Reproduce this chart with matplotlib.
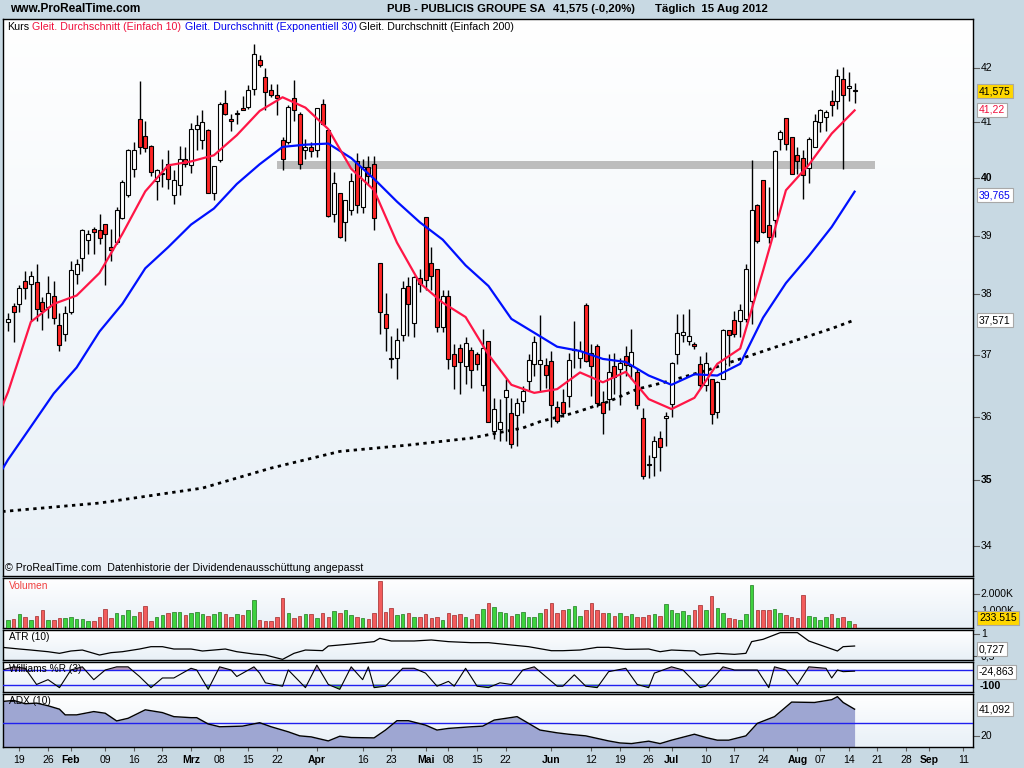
import numpy as np
import matplotlib
matplotlib.use('Agg')
import matplotlib.pyplot as plt
from matplotlib.transforms import blended_transform_factory
from matplotlib.colors import LinearSegmentedColormap

plt.rcParams['font.family'] = ['Liberation Sans', 'DejaVu Sans']

# ---------------- data (daily candles, 17 Jan 2012 .. 15 Aug 2012) ----------------
opens = [37.54, 37.80, 37.84, 38.23, 38.17, 38.21, 37.87, 37.78, 37.97, 37.49,
         37.34, 37.71, 38.34, 38.61, 38.92, 39.12, 39.10, 39.20, 38.81, 38.89,
         39.31, 39.71, 40.17, 41.07, 40.75, 40.57, 39.96, 40.07, 40.26, 39.70,
         39.88, 40.35, 40.23, 40.88, 40.68, 40.86, 39.75, 40.33, 41.36, 41.07,
         41.16, 41.26, 41.28, 41.61, 42.15, 41.84, 41.60, 41.51, 40.68, 40.65,
         41.45, 41.16, 40.50, 40.56, 40.50, 41.33, 40.86, 39.37, 39.75, 39.23,
         39.45, 40.30, 39.50, 40.20, 40.25, 38.53, 37.67, 36.95, 36.95, 37.33,
         38.14, 37.52, 38.28, 39.33, 38.53, 38.42, 37.45, 37.97, 37.01, 37.11,
         36.82, 37.08, 37.01, 36.50, 37.22, 35.77, 35.80, 36.32, 36.06, 36.02,
         36.25, 36.57, 36.85, 36.85, 36.83, 36.89, 36.16, 36.24, 36.33, 37.07,
         36.94, 37.82, 37.03, 37.14, 36.23, 36.28, 36.82, 36.77, 36.98, 36.82,
         36.72, 35.98, 35.26, 35.36, 35.66, 35.97, 36.20, 37.01, 37.32, 37.23,
         37.17, 36.85, 36.50, 36.60, 36.07, 36.61, 37.40, 37.57, 37.55, 37.58,
         37.88, 39.53, 39.97, 39.19, 39.27, 40.70, 41.09, 40.73, 40.42, 40.36,
         40.19, 40.56, 41.00, 41.10, 41.40, 41.39, 41.80, 41.63, 41.58]
highs = [37.68, 37.85, 38.16, 38.40, 38.40, 38.51, 37.95, 38.31, 38.23, 37.68,
         37.81, 38.56, 38.60, 39.12, 39.09, 39.14, 39.38, 39.20, 39.12, 39.49,
         39.97, 40.53, 40.65, 41.76, 41.02, 40.60, 40.17, 40.35, 40.51, 40.14,
         40.57, 40.56, 40.99, 41.14, 41.22, 40.88, 40.21, 41.37, 41.60, 41.16,
         41.22, 41.48, 41.69, 42.44, 42.24, 42.00, 41.71, 41.71, 40.74, 41.31,
         41.77, 41.19, 40.70, 40.65, 41.26, 41.43, 40.89, 40.12, 39.75, 39.61,
         40.10, 40.45, 40.35, 40.40, 40.40, 38.53, 38.03, 37.31, 37.44, 38.23,
         38.29, 38.31, 38.42, 39.33, 38.80, 38.42, 38.08, 38.08, 37.18, 37.18,
         37.29, 37.13, 37.05, 37.42, 37.22, 36.30, 36.28, 36.60, 36.30, 36.30,
         36.49, 37.01, 37.31, 37.65, 36.95, 37.06, 36.25, 36.44, 37.02, 37.56,
         37.23, 37.86, 37.18, 37.18, 36.41, 37.01, 37.02, 36.95, 37.14, 37.42,
         36.79, 36.14, 35.40, 35.70, 35.77, 36.08, 36.88, 37.67, 37.67, 37.76,
         37.20, 36.97, 37.04, 36.60, 36.57, 37.42, 37.40, 37.72, 37.84, 38.51,
         40.32, 39.54, 39.97, 39.84, 40.51, 40.86, 41.09, 40.73, 40.56, 40.50,
         40.73, 41.15, 41.25, 41.22, 41.60, 41.98, 42.02, 41.93, 41.72]
lows = [37.39, 37.20, 37.71, 37.92, 37.56, 37.56, 37.41, 37.61, 37.50, 37.06,
        37.23, 37.67, 38.17, 38.40, 38.68, 38.68, 38.85, 38.15, 38.57, 38.85,
        39.29, 39.68, 40.02, 40.44, 40.47, 40.05, 39.61, 39.85, 39.82, 39.55,
        39.71, 40.20, 40.09, 40.50, 40.53, 39.75, 39.61, 40.29, 41.14, 40.85,
        40.98, 41.22, 41.25, 41.50, 42.02, 41.22, 41.46, 41.14, 40.14, 40.62,
        41.02, 40.17, 40.35, 40.38, 40.38, 40.95, 39.33, 39.23, 38.96, 38.91,
        39.35, 39.40, 39.40, 39.90, 39.10, 37.34, 37.06, 36.79, 36.60, 37.23,
        37.31, 37.29, 38.04, 38.07, 38.07, 37.38, 37.38, 36.77, 36.44, 36.36,
        36.52, 36.46, 36.75, 36.41, 35.91, 35.64, 35.61, 35.61, 35.50, 35.53,
        36.05, 36.41, 36.65, 36.41, 36.46, 35.84, 35.90, 35.99, 36.15, 36.79,
        36.79, 36.88, 36.33, 36.15, 35.72, 36.11, 36.36, 36.19, 36.65, 36.60,
        36.12, 35.02, 35.04, 35.07, 35.15, 35.53, 36.00, 36.85, 37.20, 37.16,
        37.10, 36.46, 36.41, 35.89, 35.98, 36.60, 36.82, 37.29, 37.29, 37.53,
        37.51, 38.88, 39.04, 38.88, 38.98, 40.50, 40.50, 40.08, 40.08, 39.64,
        39.92, 40.55, 40.83, 40.85, 41.12, 41.25, 40.17, 41.39, 41.36]
closes = [37.59, 37.71, 38.11, 38.11, 38.31, 37.75, 37.72, 38.02, 37.60, 37.16,
          37.69, 38.41, 38.51, 39.10, 39.02, 39.06, 38.96, 39.03, 38.75, 39.44,
          39.93, 40.50, 40.50, 40.55, 40.54, 40.12, 40.15, 40.10, 39.99, 39.97,
          40.35, 40.25, 40.88, 40.96, 41.01, 39.75, 40.21, 41.34, 41.15, 41.02,
          41.16, 41.22, 41.59, 42.27, 42.06, 41.55, 41.51, 41.45, 40.35, 41.28,
          41.22, 40.26, 40.55, 40.49, 41.26, 40.97, 39.34, 39.91, 38.97, 39.61,
          39.95, 39.53, 40.20, 40.05, 39.30, 37.71, 37.44, 36.93, 37.24, 38.11,
          37.84, 38.29, 38.17, 38.25, 38.31, 37.45, 37.97, 36.93, 36.82, 36.88,
          37.19, 36.75, 36.84, 37.11, 35.91, 36.12, 35.91, 36.42, 35.57, 36.21,
          36.41, 36.91, 37.20, 36.91, 36.67, 36.18, 35.93, 36.06, 36.92, 37.10,
          37.06, 36.89, 36.82, 36.21, 36.05, 36.72, 36.64, 36.86, 36.83, 37.04,
          36.19, 35.07, 35.24, 35.61, 35.52, 36.01, 36.86, 37.36, 37.37, 37.31,
          37.14, 36.50, 36.87, 36.04, 36.55, 37.40, 37.32, 37.34, 37.74, 38.42,
          39.44, 38.90, 39.07, 38.98, 40.49, 40.82, 40.61, 40.08, 40.30, 40.06,
          40.70, 41.03, 41.22, 41.19, 41.31, 41.85, 41.50, 41.66, 41.575]
volume_k = [490, 529, 784, 627, 470, 686, 1019, 490, 470, 588,
            568, 666, 529, 529, 431, 431, 627, 1078, 588, 882,
            764, 1058, 686, 921, 1254, 431, 627, 764, 862, 902,
            902, 764, 882, 902, 823, 725, 823, 902, 823, 666,
            784, 764, 1019, 1607, 470, 431, 431, 666, 1725, 882,
            588, 686, 823, 823, 568, 862, 627, 980, 882, 1019,
            764, 627, 568, 529, 862, 2724, 921, 1156, 764, 823,
            862, 627, 627, 823, 568, 627, 490, 882, 764, 784,
            666, 529, 823, 1078, 1470, 1215, 921, 862, 725, 823,
            921, 666, 666, 882, 1078, 1470, 882, 1019, 1078, 1254,
            686, 1019, 1470, 1058, 862, 862, 686, 862, 686, 823,
            627, 627, 764, 784, 686, 1411, 1058, 862, 980, 764,
            1019, 1313, 1019, 1842, 1176, 862, 568, 529, 470, 823,
            2489, 1058, 1058, 1058, 1117, 882, 764, 627, 568, 1901,
            725, 627, 490, 627, 823, 588, 627, 431, 235]

# moving averages (previous session, then every 4th session)
ma_idx = [-1] + list(range(0, 149, 4))
sma10 = [36.17, 36.39, 37.54, 37.84, 37.98, 38.36, 39.03, 39.77, 40.23, 40.30, 40.41,
         40.77, 41.21, 41.46, 41.27, 40.88, 40.17, 39.79, 38.88, 38.19, 37.86,
         37.62, 37.00, 36.51, 36.38, 36.44, 36.71, 36.55, 36.72, 36.28, 36.12,
         36.30, 36.85, 37.10, 38.40, 39.79, 40.24, 40.80, 41.22]
ema30 = [35.17, 35.32, 35.84, 36.37, 36.79, 37.38, 37.84, 38.44, 38.80, 39.19, 39.47,
         39.90, 40.25, 40.56, 40.60, 40.62, 40.36, 39.99, 39.59, 39.23, 38.93,
         38.49, 38.14, 37.59, 37.36, 37.13, 37.06, 36.93, 36.88, 36.66, 36.51,
         36.68, 36.66, 36.85, 37.61, 38.19, 38.65, 39.15, 39.765]
sma200_idx = [-1, 16, 34, 46, 58, 70, 81, 90, 93, 99, 105, 110, 116, 122, 128, 135, 144, 148]
sma200 = [34.52, 34.65, 34.88, 35.19, 35.45, 35.55, 35.66, 35.82, 35.92, 36.06,
          36.24, 36.44, 36.58, 36.74, 36.93, 37.15, 37.43, 37.571]

atr_idx = [-1, 2, 4, 7, 9, 11, 13, 16, 18, 20, 23, 25, 27, 29, 32, 34, 36, 38, 40, 43,
           45, 48, 50, 52, 55, 56, 60, 64, 65, 67, 71, 74, 77, 81, 84, 88, 91, 95, 97, 100,
           103, 105, 108, 112, 114, 116, 120, 121, 124, 127, 129, 130, 132, 135, 138, 140,
           142, 145, 146, 148]
atr = [0.697, 0.659, 0.636, 0.598, 0.561, 0.614, 0.636, 0.523, 0.576, 0.598,
       0.659, 0.712, 0.712, 0.659, 0.659, 0.614, 0.636, 0.659, 0.598, 0.545,
       0.523, 0.424, 0.561, 0.636, 0.622, 0.727, 0.773, 0.826, 0.901, 0.841,
       0.841, 0.864, 0.826, 0.803, 0.803, 0.750, 0.712, 0.621, 0.621, 0.636,
       0.697, 0.697, 0.651, 0.659, 0.598, 0.636, 0.614, 0.523, 0.561, 0.538,
       0.561, 0.826, 0.879, 1.030, 1.030, 0.841, 0.750, 0.614, 0.712, 0.727]

wr_idx = [-1, 1, 3, 5, 7, 9, 11, 13, 15, 17, 19, 21, 23, 25, 27, 29, 32, 33, 35, 37,
          39, 40, 43, 44, 45, 48, 49, 52, 54, 56, 58, 60, 62, 63, 64, 66, 69, 71, 73, 75,
          77, 78, 80, 82, 84, 86, 88, 90, 92, 93, 96, 97, 99, 101, 103, 105, 108, 110, 112, 113,
          116, 118, 121, 122, 125, 127, 129, 131, 133, 134, 136, 138, 140, 143, 144, 145, 146, 148]
williams = [-20, -7, -13, -80, -60, -93, -20, -7, -60, -20, -7, -7, -47, -93, -53, -53, -13, -20, -100, -7,
            -20, -47, -7, -33, -73, -87, -20, -93, 0, -80, -100, -7, -60, -7, -93, -87, -13, -13, -33, -87,
            -67, -87, -13, -87, -93, -73, -80, -20, -7, -27, -87, -87, -40, -87, -93, -27, -13, -80, -93, -33,
            -7, -20, -93, -87, -7, -20, -20, -20, -93, -7, -20, -80, -7, -13, -53, -20, -27, -24.863]

adx_idx = [-1, 1, 3, 5, 7, 9, 10, 12, 15, 17, 19, 21, 24, 27, 29, 32, 33, 35, 37, 41,
           44, 46, 49, 51, 53, 56, 58, 60, 64, 66, 68, 70, 73, 75, 77, 81, 83, 85, 89, 91,
           93, 96, 98, 101, 105, 107, 109, 112, 114, 116, 120, 122, 124, 126, 129, 131, 134, 137,
           141, 144, 145, 146, 148]
adx = [47.2, 48.0, 45.4, 45.9, 43.8, 41.1, 36.6, 36.6, 39.2, 37.9, 31.8, 33.9, 40.6, 38.4, 35.2, 34.4, 34.4, 29.4, 27.2, 27.7,
       30.4, 27.2, 23.2, 20.0, 19.2, 16.0, 19.7, 18.7, 18.4, 24.6, 32.0, 32.0, 28.5, 24.6, 25.9, 27.2, 27.7, 32.5, 35.2, 29.9,
       24.6, 22.4, 21.3, 20.0, 16.0, 14.4, 13.9, 15.8, 13.9, 16.6, 21.3, 18.7, 16.6, 16.6, 20.0, 29.9, 35.2, 46.7,
       46.4, 48.6, 51.0, 46.4, 41.092]

band_lo, band_hi = 40.17, 40.30
band_start, band_end = 47, 151.5

price_ticks = [42, 41, 40, 39, 38, 37, 36, 35, 34]
price_bold = [40, 35]
date_ticks = [2, 7, 11, 17, 22, 27, 32, 37, 42, 47, 54, 62, 67, 73, 77, 82, 87, 95, 102, 107,
              112, 116, 122, 127, 132, 138, 142, 147, 152, 157, 161, 167]
date_labels = ['19', '26', 'Feb', '09', '16', '23', 'Mrz', '08', '15', '22', 'Apr', '16', '23',
               'Mai', '08', '15', '22', 'Jun', '12', '19', '26', 'Jul', '10', '17', '24', 'Aug',
               '07', '14', '21', '28', 'Sep', '11']
months = {'Feb', 'Mrz', 'Apr', 'Mai', 'Jun', 'Jul', 'Aug', 'Sep'}

# ---------------- figure ----------------
W, H = 1024, 768
BG = '#c8d9e3'
fig = plt.figure(figsize=(W / 100, H / 100), dpi=100)
fig.patch.set_facecolor(BG)
XMIN, XMAX = -0.87, 168.7


def panel(left, top, right, bottom):
    a = fig.add_axes([left / W, 1 - bottom / H, (right - left) / W, (bottom - top) / H])
    a.set_xlim(XMIN, XMAX)
    a.set_xticks([])
    a.set_yticks([])
    for s in a.spines.values():
        s.set_linewidth(1.0)
        s.set_color('black')
    grad = np.linspace(0, 1, 256).reshape(-1, 1)
    cm = LinearSegmentedColormap.from_list('g', ['#ffffff', '#e8f0f7'])
    a.imshow(grad, extent=[0, 1, 0, 1], transform=a.transAxes, cmap=cm,
             aspect='auto', zorder=0, interpolation='bilinear')
    return a


ax = panel(3, 19, 973, 576)
axv = panel(3, 578, 973, 628)
axa = panel(3, 630, 973, 660)
axw = panel(3, 662, 973, 692)
axd = panel(3, 694, 973, 747)

O = np.array(opens); Hh = np.array(highs); L = np.array(lows); C = np.array(closes)
n = len(O)
idx = np.arange(n)
up = C >= O

# main panel
ax.set_yscale('log')
ax.set_ylim(33.55, 42.92)
ax.set_xlim(XMIN, XMAX)
ax.yaxis.set_minor_locator(matplotlib.ticker.NullLocator())
ax.set_yticks([])

ax.fill_between([band_start, band_end], band_lo, band_hi, color='#bdbdbd', lw=0, zorder=1)
ax.plot(sma200_idx, sma200, color='black', lw=2.0, ls=(0, (1.2, 1.6)), zorder=2)
ax.vlines(idx, L, Hh, color='black', lw=1.0, zorder=3)
lo = np.minimum(O, C); hi = np.maximum(O, C)
hgt = np.maximum(hi - lo, 0.015)
ax.bar(idx, hgt, bottom=lo, width=0.7, color=np.where(up, 'white', '#ff2626'),
       edgecolor='black', linewidth=0.8, zorder=4)
ax.plot(ma_idx, ema30, color='#0010ff', lw=1.6, zorder=5)
ax.plot(ma_idx, sma10, color='#ff1646', lw=1.6, zorder=6)
ax.set_xlim(XMIN, XMAX)

tr = blended_transform_factory(ax.transAxes, ax.transData)
for p in price_ticks:
    ax.plot([1.0, 1.006], [p, p], transform=tr, color='#606060', lw=0.8, clip_on=False)
    ax.text(1.008, p, str(p), transform=tr, fontsize=7.5, va='center', ha='left',
            fontweight='bold' if p in price_bold else 'normal', color='black')

# legend line in main panel
ly = 1 - 27 / H
fig.text(7 / W, ly, 'Kurs', fontsize=7.7, color='black', va='center')
fig.text(32 / W, ly, 'Gleit. Durchschnitt (Einfach 10)', fontsize=7.7, color='#f0103c', va='center')
fig.text(185 / W, ly, 'Gleit. Durchschnitt (Exponentiell 30)', fontsize=7.7, color='#0000ee', va='center')
fig.text(359 / W, ly, 'Gleit. Durchschnitt (Einfach 200)', fontsize=7.7, color='black', va='center')
fig.text(5 / W, 1 - 568 / H, '\u00a9 ProRealTime.com  Datenhistorie der Dividendenausschüttung angepasst',
         fontsize=7.7, color='black', va='center')

# title bar
fig.text(10 / W, 1 - 9 / H, 'www.ProRealTime.com', fontsize=8.6, fontweight='bold', va='center')
fig.text(387 / W, 1 - 9 / H, 'PUB - PUBLICIS GROUPE SA', fontsize=8.2, fontweight='bold', va='center')
fig.text(553 / W, 1 - 9 / H, '41,575 (-0,20%)', fontsize=8.2, fontweight='bold', va='center')
fig.text(655 / W, 1 - 9 / H, 'Täglich  15 Aug 2012', fontsize=8.2, fontweight='bold', va='center')


def vbox(ypx, text, fc, tc, x=979):
    fig.text(x / W, 1 - ypx / H, text, fontsize=7.5, color=tc, va='center', ha='left',
             bbox=dict(boxstyle='square,pad=0.18', fc=fc, ec='#a8a8a8', lw=0.8))


vbox(91, '41,575', '#ffd700', 'black')
vbox(110, '41,22', 'white', '#f0103c')
vbox(195, '39,765', 'white', '#0000ee')
vbox(320, '37,571', 'white', 'black')

# volume
axv.set_ylim(0, 2900)
vcol = np.where(up, '#3ed23e', '#f25c5c')
vedge = np.where(up, '#1f7a1f', '#a02828')
axv.bar(idx, volume_k, width=0.62, color=vcol, edgecolor=vedge, linewidth=0.5, zorder=3)
axv.text(0.006, 0.84, 'Volumen', transform=axv.transAxes, fontsize=7.3, color='#f04040', va='center')
trv = blended_transform_factory(axv.transAxes, axv.transData)
for v, lab in [(2000, '2.000K'), (1000, '1.000K')]:
    axv.plot([1.0, 1.006], [v, v], transform=trv, color='#606060', lw=0.8, clip_on=False)
    axv.text(1.008, v, lab, transform=trv, fontsize=7.5, va='center', ha='left')
vbox(618, '233.515', '#ffd700', 'black')

# ATR
axa.set_ylim(0.41, 1.09)
axa.plot(atr_idx, atr, color='black', lw=0.9, zorder=3)
axa.set_xlim(XMIN, XMAX)
axa.text(0.006, 0.77, 'ATR (10)', transform=axa.transAxes, fontsize=7.3, va='center')
tra = blended_transform_factory(axa.transAxes, axa.transData)
for v, lab in [(1.0, '1'), (0.5, '0,5')]:
    axa.plot([1.0, 1.006], [v, v], transform=tra, color='#606060', lw=0.8, clip_on=False)
    axa.text(1.008, v, lab, transform=tra, fontsize=7.5, va='center', ha='left')
vbox(649, '0,727', 'white', 'black')

# Williams %R
axw.set_ylim(-111, 13)
wi = np.array(wr_idx, float); wv = np.array(williams, float)
xx = np.linspace(wi[0], wi[-1], 2000)
yy = np.interp(xx, wi, wv)
axw.fill_between(xx, yy, -20, where=yy > -20, color='#b89cb8', lw=0, zorder=2)
axw.fill_between(xx, yy, -80, where=yy < -80, color='#5cb85c', lw=0, zorder=2)
axw.axhline(-20, color='#2020ee', lw=1.0, zorder=3)
axw.axhline(-80, color='#2020ee', lw=1.0, zorder=3)
axw.plot(wi, wv, color='black', lw=0.8, zorder=4)
axw.set_xlim(XMIN, XMAX)
axw.text(0.006, 0.78, 'Williams %R (3)', transform=axw.transAxes, fontsize=7.3, va='center')
vbox(672, '-24,863', 'white', 'black')
fig.text(980 / W, 1 - 686 / H, '-100', fontsize=7.8, fontweight='bold', va='center')

# ADX
axd.set_ylim(11.2, 53.1)
axd.fill_between(adx_idx, adx, 11.2, color='#9ea6d2', lw=0, zorder=2)
axd.plot(adx_idx, adx, color='black', lw=1.0, zorder=4)
axd.axhline(30, color='#2020ee', lw=1.0, zorder=3)
axd.set_xlim(XMIN, XMAX)
axd.text(0.006, 0.86, 'ADX (10)', transform=axd.transAxes, fontsize=7.3, va='center')
trd = blended_transform_factory(axd.transAxes, axd.transData)
axd.plot([1.0, 1.006], [20, 20], transform=trd, color='#606060', lw=0.8, clip_on=False)
axd.text(1.008, 20, '20', transform=trd, fontsize=7.5, va='center', ha='left')
vbox(709, '41,092', 'white', 'black')

axd.set_xticks(date_ticks)
axd.set_xticklabels(date_labels)
axd.tick_params(axis='x', length=3, width=0.8, pad=3, labelsize=7.5, color='#606060')
for t in axd.get_xticklabels():
    if t.get_text() in months:
        t.set_fontweight('bold')

fig.savefig('out.png', dpi=100, facecolor=BG)
